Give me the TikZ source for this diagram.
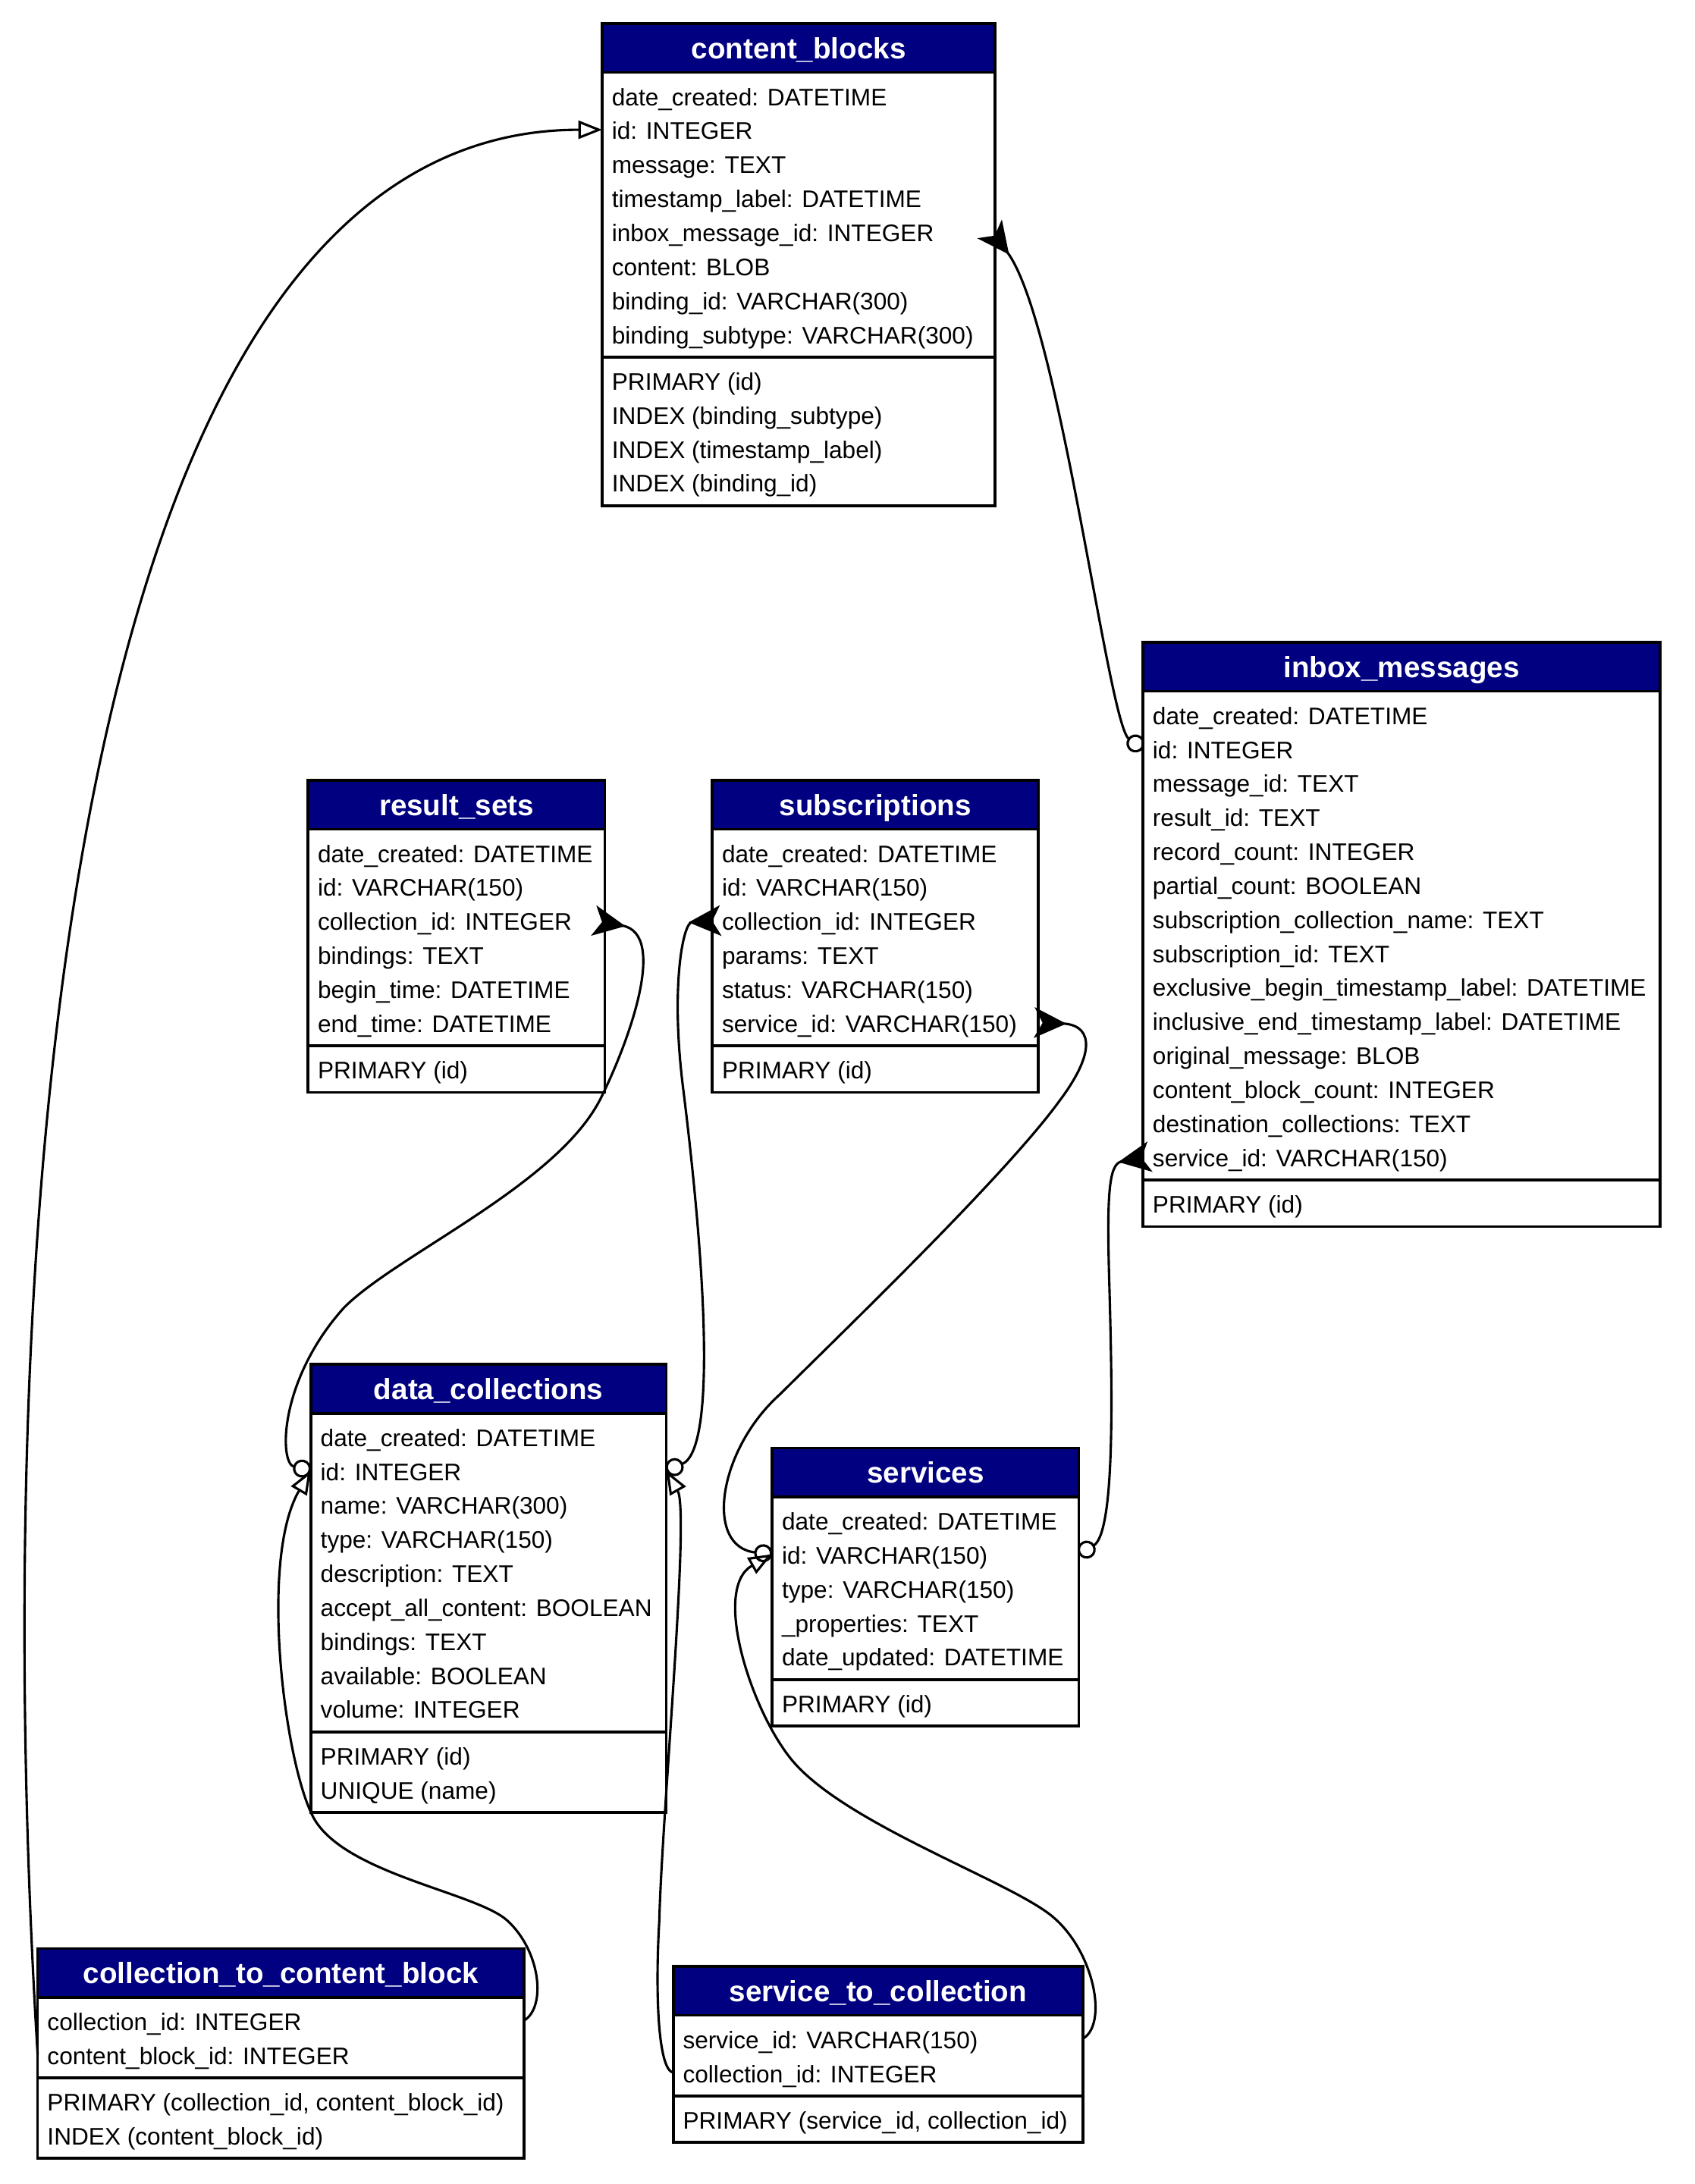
\documentclass[tikz,border=0pt]{standalone}
\usepackage{fontspec}
\setmainfont{Liberation Sans}
\usepackage{tikz}
\usetikzlibrary{arrows.meta}
\definecolor{hdrblue}{RGB}{0,0,128}

\tikzset{
  tblhead/.style={draw, fill=hdrblue, text=white, line width=2pt, inner sep=0pt, outer sep=0pt,
    minimum height=35pt, text height=15pt, text depth=0pt,
    font=\bfseries\fontsize{21}{24}\selectfont},
  tblrow/.style={inner xsep=7pt, inner ysep=0pt, outer sep=0pt, minimum height=24.4pt,
    text height=14pt, text depth=0pt, font=\fontsize{17.2}{20}\selectfont},
  tblframe/.style={draw, line width=2pt},
  link/.style={line width=1.7pt},
  crowtip/.tip={Stealth[reversed, length=23pt, width=22pt, inset=6pt]},
  ringtip/.tip={Circle[open, length=13pt, width=13pt]},
  opentip/.tip={Triangle[open, length=17pt, width=13pt]}
}

% #1 name, #2 left, #3 top, #4 width, #5 title, #6/#7 fields, #8/#9 indexes
\newcommand{\dbtable}[9]{%
  \node[tblhead, minimum width=#4pt, anchor=north west] (#1) at (#2,#3) {#5};
  \draw[tblframe] (#2,#3+35) rectangle ++(#4,#6*24.4+9);
  \draw[tblframe] (#2,#3+44+#6*24.4) rectangle ++(#4,#8*24.4+9);
  \foreach \f [count=\i] in {#7}
    \node[tblrow, minimum width=#4pt, anchor=west] (#1-\i)
      at (#2,#3+35+16.7+\i*24.4-24.4) {\makebox[\dimexpr#4pt-14pt\relax][l]{\f}};
  \foreach \f [count=\i] in {#9}
    \node[tblrow, minimum width=#4pt, anchor=west] (#1-x\i)
      at (#2,#3+44+#6*24.4+16.7+\i*24.4-24.4) {\makebox[\dimexpr#4pt-14pt\relax][l]{\f}};
}

\begin{document}
\begin{tikzpicture}[x=1pt, y=-1pt]
  \useasboundingbox (0,0) rectangle (1216,1567);

  \dbtable{cb}{432}{17}{282}{content\_blocks}{8}{date\_created: DATETIME, id: INTEGER, message: TEXT,
    timestamp\_label: DATETIME, inbox\_message\_id: INTEGER, content: BLOB,
    binding\_id: VARCHAR(300), binding\_subtype: VARCHAR(300)}{4}{PRIMARY (id),
    INDEX (binding\_subtype), INDEX (timestamp\_label), INDEX (binding\_id)}
  \dbtable{im}{820}{461}{371}{inbox\_messages}{14}{date\_created: DATETIME, id: INTEGER,
    message\_id: TEXT, result\_id: TEXT, record\_count: INTEGER, partial\_count: BOOLEAN,
    subscription\_collection\_name: TEXT, subscription\_id: TEXT,
    exclusive\_begin\_timestamp\_label: DATETIME, inclusive\_end\_timestamp\_label: DATETIME,
    original\_message: BLOB, content\_block\_count: INTEGER, destination\_collections: TEXT,
    service\_id: VARCHAR(150)}{1}{PRIMARY (id)}
  \dbtable{rs}{221}{560}{213}{result\_sets}{6}{date\_created: DATETIME, id: VARCHAR(150),
    collection\_id: INTEGER, bindings: TEXT, begin\_time: DATETIME, end\_time: DATETIME}{1}{PRIMARY (id)}
  \dbtable{sb}{511}{560}{234}{subscriptions}{6}{date\_created: DATETIME, id: VARCHAR(150),
    collection\_id: INTEGER, params: TEXT, status: VARCHAR(150), service\_id: VARCHAR(150)}{1}{PRIMARY (id)}
  \dbtable{dc}{223}{979}{255}{data\_collections}{9}{date\_created: DATETIME, id: INTEGER,
    name: VARCHAR(300), type: VARCHAR(150), description: TEXT, accept\_all\_content: BOOLEAN,
    bindings: TEXT, available: BOOLEAN, volume: INTEGER}{2}{PRIMARY (id), UNIQUE (name)}
  \dbtable{sv}{554}{1039}{220}{services}{5}{date\_created: DATETIME, id: VARCHAR(150),
    type: VARCHAR(150), \_properties: TEXT, date\_updated: DATETIME}{1}{PRIMARY (id)}
  \dbtable{cc}{27}{1398}{349}{collection\_to\_content\_block}{2}{collection\_id: INTEGER,
    content\_block\_id: INTEGER}{2}{{PRIMARY (collection\_id, content\_block\_id)}, INDEX (content\_block\_id)}
  \dbtable{sc}{483}{1411}{294}{service\_to\_collection}{2}{service\_id: VARCHAR(150),
    collection\_id: INTEGER}{1}{{PRIMARY (service\_id, collection\_id)}}

  \begin{scope}[link]
    \draw[-opentip] (cc-2.west) .. controls (-8,900) and (40,93) .. (cb-2.west);
    \draw[ringtip-crowtip] (im-2.west) .. controls (795,520) and (760,230) .. ([xshift=-4pt,yshift=2pt]cb-5.east);
    \draw[ringtip-crowtip] (dc-2.west) .. controls (200,1050) and (200,990) .. (247,938)
      .. controls (285,900) and (400,850) .. (431,788)
      .. controls (450,750) and (480,670) .. ([xshift=-8pt]rs-3.east);
    \draw[ringtip-crowtip] (dc-2.east) .. controls (515,1040) and (505,900) .. (490,780)
      .. controls (481,708) and (490,662) .. ([xshift=6pt]sb-3.west);
    \draw[ringtip-crowtip] (sv-2.west) .. controls (505,1110) and (515,1040) .. (560,1000)
      .. controls (600,960) and (720,845) .. (760,790)
      .. controls (790,750) and (780,735) .. ([xshift=-3pt]sb-6.east);
    \draw[ringtip-crowtip] (sv-2.east) .. controls (800,1100) and (798,1000) .. (796,926)
      .. controls (794,860) and (795,835) .. ([xshift=5pt]im-14.west);
    \draw[-opentip] (cc-1.east) .. controls (392,1440) and (388,1400) .. (364,1378)
      .. controls (342,1358) and (250,1345) .. (226,1306)
      .. controls (205,1271) and (185,1120) .. (dc-2.west);
    \draw[-opentip] (sc-2.west) .. controls (472,1485) and (470,1430) .. (473,1378)
      .. controls (475,1300) and (495,1085) .. (dc-2.east);
    \draw[-opentip] (sc-1.east) .. controls (795,1452) and (785,1400) .. (755,1375)
      .. controls (725,1350) and (610,1310) .. (570,1265)
      .. controls (540,1231) and (510,1140) .. (sv-2.west);
  \end{scope}
\end{tikzpicture}
\end{document}
